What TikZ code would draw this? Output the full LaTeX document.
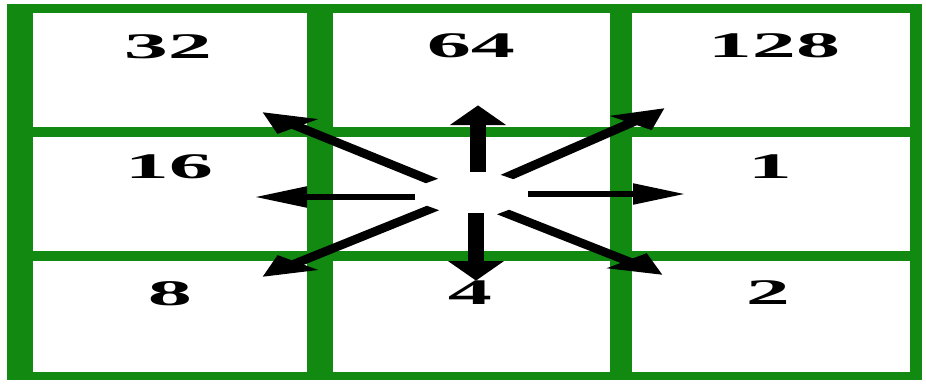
\documentclass[tikz,border=0pt]{standalone}
\usepackage{fontspec}
\setmainfont{Liberation Serif}
\usetikzlibrary{arrows.meta}
\definecolor{gridgreen}{RGB}{18,138,18}
\begin{document}
\begin{tikzpicture}[x=1pt,y=-1pt,
  cell/.style={fill=white},
  num/.style={font=\bfseries\fontsize{36}{36}\selectfont, anchor=base, inner sep=0pt},
  ray/.style={line width=6.5pt, -{Triangle[length=20pt,width=20pt]}}]
\useasboundingbox (0,0) rectangle (926,383);
\fill[white] (0,0) rectangle (926,383);
\fill[gridgreen] (7,4) rectangle (922,380);
% cells
\fill[cell] (33,13) rectangle (307,127);
\fill[cell] (333,13) rectangle (610,127);
\fill[cell] (632,13) rectangle (910,127);
\fill[cell] (33,137) rectangle (307,251);
\fill[cell] (333,137) rectangle (610,251);
\fill[cell] (632,137) rectangle (910,251);
\fill[cell] (33,261) rectangle (307,372);
\fill[cell] (333,261) rectangle (610,372);
\fill[cell] (632,261) rectangle (910,372);
\begin{scope}[transform canvas={xscale=2.45}, x=0.408163pt]
  \node[num] (n32)  at (168,58)  {32};
  \node[num] (n64)  at (471,57)  {64};
  \node[num] (n128) at (774,57)  {128};
  \node[num] (n16)  at (169,178) {16};
  \node[num] (n1)   at (770,178) {1};
  \node[num] (n8)   at (170,305) {8};
  \node[num] (n4)   at (470,304) {4};
  \node[num] (n2)   at (768,304) {2};
\end{scope}
\begin{scope}[transform canvas={xscale=2.6}, x=0.384615pt]
  % arrow tails and tips
  \coordinate (tU)  at (478,172); \coordinate (hU)  at (478,105);
  \coordinate (tD)  at (476,213); \coordinate (hD)  at (476,281);
  \coordinate (tL)  at (415,197); \coordinate (hL)  at (255,197);
  \coordinate (tR)  at (528,194); \coordinate (hR)  at (685,194);
  \coordinate (tUL) at (432,181); \coordinate (hUL) at (262,112);
  \coordinate (tUR) at (507,177); \coordinate (hUR) at (665,108);
  \coordinate (tDL) at (433,208); \coordinate (hDL) at (262,277);
  \coordinate (tDR) at (503,212); \coordinate (hDR) at (663,275);
  \draw[ray] (tU) -- (hU);
  \draw[ray] (tD) -- (hD);
  \draw[ray] (tL) -- (hL);
  \draw[ray] (tR) -- (hR);
  \draw[ray] (tUL) -- (hUL);
  \draw[ray] (tUR) -- (hUR);
  \draw[ray] (tDL) -- (hDL);
  \draw[ray] (tDR) -- (hDR);
\end{scope}
\end{tikzpicture}
\end{document}
